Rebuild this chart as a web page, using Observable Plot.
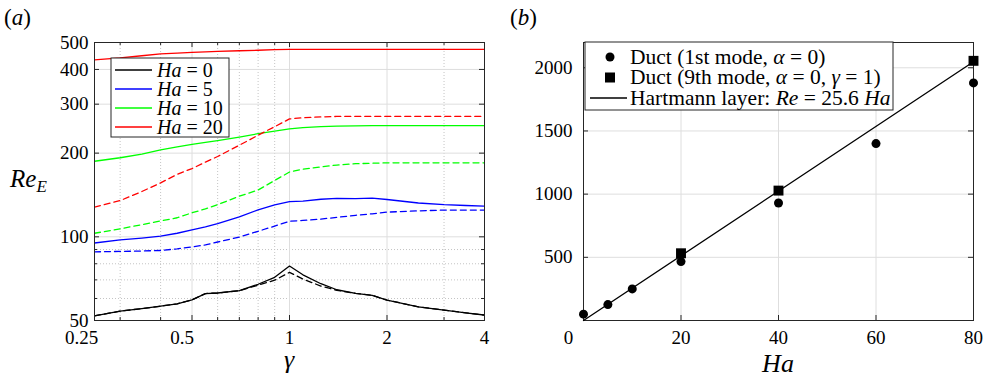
<!DOCTYPE html>
<html>
<head>
<meta charset="utf-8">
<script src="https://cdn.jsdelivr.net/npm/d3@7"></script>
<script src="https://cdn.jsdelivr.net/npm/@observablehq/plot@0.6"></script>
<style>
  body { margin: 0; background: #fff; }
  #fig { display: flex; width: 988px; height: 378px; }
  #fig svg { display: block; }
  #fig svg text, #fig svg tspan { font-family: "Liberation Serif", "Times New Roman", serif !important; }
</style>
</head>
<body>
<div id="fig"></div>
<script>
// ---- (a) critical Reynolds number Re_E against aspect ratio gamma ----
const gamma      = [0.25, 0.3, 0.35, 0.4, 0.45, 0.5, 0.55, 0.6, 0.7, 0.8, 0.9, 1, 1.1, 1.25, 1.4, 1.6, 1.8, 2, 2.5, 3, 3.5, 4];
const reHa0      = [52, 54, 55.2, 56.3, 57.4, 59.3, 62.5, 62.8, 64, 67.5, 71.5, 78.5, 73, 67.8, 64.5, 62.6, 61.6, 59.2, 56, 54.5, 53.3, 52.3];
const reHa0Dash  = [52, 54, 55.2, 56.3, 57.4, 59.3, 62.5, 62.8, 64, 67, 69.8, 74.5, 70.5, 66.5, 64.2, 62.6, 61.6, 59.2, 56, 54.5, 53.3, 52.3];
const reHa5      = [95, 97.5, 99, 100.5, 103, 106, 108.5, 111.5, 118, 125, 130.3, 133.8, 134.3, 136.5, 137.5, 137.2, 137.8, 136.2, 132.3, 130.5, 129.6, 129];
const reHa5Dash  = [88.3, 88.6, 88.9, 89.3, 90.5, 92, 93.5, 95.8, 99.8, 104.7, 109.3, 113.8, 114.5, 115.8, 117.5, 119.5, 121, 122.7, 124, 124.8, 124.8, 124.8];
const reHa10     = [187, 192.5, 198.5, 205.5, 210.5, 215, 218.5, 222, 228.5, 235, 240, 244.5, 247, 249, 250.2, 250.8, 251, 251, 251, 251, 251, 251];
const reHa10Dash = [103, 106.8, 110.6, 114, 117.1, 122, 126, 130.5, 140, 147.3, 159.5, 171, 175, 178.5, 181.2, 183.2, 184, 184.5, 184.5, 184.5, 184.5, 184.5];
const reHa20     = [433, 440, 448, 455, 458, 460.5, 462.5, 464.5, 467, 469, 471, 472, 472, 472, 472, 472, 472, 472, 472, 472, 472, 472];
const reHa20Dash = [127.8, 135, 145.5, 156.3, 167.8, 176, 185.6, 194.5, 213.5, 232, 249, 265.5, 268, 270, 271, 271, 271, 271, 271, 271, 271, 271];

const haLevels  = [0, 5, 10, 20];
const haColors  = ["#000000", "#0000ff", "#00ff00", "#ff0000"];
const solidRe   = [reHa0, reHa5, reHa10, reHa20];
const dashedRe  = [reHa0Dash, reHa5Dash, reHa10Dash, reHa20Dash];

const gammaTicks      = [0.25, 0.5, 1, 2, 4];
const gammaMinorTicks = [0.3, 0.4, 0.6, 0.7, 0.8, 0.9, 3];
const reTicks         = [50, 100, 200, 300, 400, 500];
const reMinorTicks    = [60, 70, 80, 90];

// ---- (b) critical Reynolds number against Hartmann number ----
const ductHa      = [0, 5, 10, 20, 40, 60, 80];
const ductRe      = [50, 126, 250, 466, 930, 1400, 1880];
const ninthHa     = [20, 40, 80];
const ninthRe     = [532, 1028, 2055];
const hartmannK   = 25.6;
const hartmannHa  = [0, 80];
const haTicks     = [20, 40, 60, 80];
const reLinTicks  = [500, 1000, 1500, 2000];
const legendB     = ["Duct (1st mode, α = 0)", "Duct (9th mode, α = 0, γ = 1)", "Hartmann layer: Re = 25.6 Ha"];

const W = 494, H = 378;
const axisColor = "#262626";
const gridColor = "#dedede";
const minorColor = "#c4c4c4";
const serif = "Liberation Serif, Times New Roman, serif";

// long-format table for the eight curves of (a)
const curves = [];
haLevels.forEach((ha, k) => {
  gamma.forEach((g, i) => {
    curves.push({gamma: g, re: solidRe[k][i], ha, color: haColors[k], dashed: false});
    curves.push({gamma: g, re: dashedRe[k][i], ha, color: haColors[k], dashed: true});
  });
});

// inward ticks along all four sides of a frame
function boxTicks(xs, ys, innerW, innerH, len) {
  return [
    Plot.tickX(xs, {x: d => d, insetTop: innerH - len, stroke: axisColor}),
    Plot.tickX(xs, {x: d => d, insetBottom: innerH - len, stroke: axisColor}),
    Plot.tickY(ys, {y: d => d, insetRight: innerW - len, stroke: axisColor}),
    Plot.tickY(ys, {y: d => d, insetLeft: innerW - len, stroke: axisColor})
  ];
}

// ---------- panel (a) ----------
const mA = {top: 42, right: 10, bottom: 58, left: 94};
const iwA = W - mA.left - mA.right, ihA = H - mA.top - mA.bottom;
const tickLabel = {tickSize: 0, fontSize: 19, label: null};

const svgA = Plot.plot({
  width: W, height: H,
  marginTop: mA.top, marginRight: mA.right, marginBottom: mA.bottom, marginLeft: mA.left,
  style: {fontFamily: serif, fontSize: "19px", color: "black", background: "white"},
  x: {type: "log", base: 2, domain: [0.25, 4]},
  y: {type: "log", domain: [50, 500]},
  color: {type: "identity"},
  marks: [
    Plot.gridX(gammaMinorTicks, {stroke: minorColor, strokeOpacity: 1, strokeDasharray: "1,2"}),
    Plot.gridY(reMinorTicks, {stroke: minorColor, strokeOpacity: 1, strokeDasharray: "1,2"}),
    Plot.gridX([0.5, 1, 2], {stroke: gridColor, strokeOpacity: 1}),
    Plot.gridY([100, 200, 300, 400], {stroke: gridColor, strokeOpacity: 1}),
    Plot.line(curves.filter(d => !d.dashed), {x: "gamma", y: "re", z: "ha", stroke: "color", strokeWidth: 1.3, clip: true}),
    Plot.line(curves.filter(d => d.dashed), {x: "gamma", y: "re", z: "ha", stroke: "color", strokeWidth: 1.3, strokeDasharray: "6,4", clip: true}),
    ...boxTicks(gammaTicks, reTicks, iwA, ihA, 5),
    ...boxTicks(gammaMinorTicks, reMinorTicks, iwA, ihA, 3),
    Plot.frame({stroke: axisColor, strokeWidth: 1}),
    Plot.axisX([1, 2, 4], {...tickLabel, tickPadding: 10, tickFormat: d => String(d)}),
    Plot.axisX([0.5], {...tickLabel, tickPadding: 10, dx: -10, tickFormat: d => String(d)}),
    Plot.axisX([0.25], {...tickLabel, tickPadding: 10, dx: -13, tickFormat: d => String(d)}),
    Plot.axisY(reTicks, {...tickLabel, tickPadding: 6, tickFormat: d => String(d)})
  ]
});

// ---------- panel (b) ----------
const mB = {top: 42, right: 15, bottom: 58, left: 89};
const iwB = W - mB.left - mB.right, ihB = H - mB.top - mB.bottom;
const duct1 = ductHa.map((h, i) => ({ha: h, re: ductRe[i]}));
const duct9 = ninthHa.map((h, i) => ({ha: h, re: ninthRe[i]}));
const hartmann = hartmannHa.map(h => ({ha: h, re: hartmannK * h}));

const svgB = Plot.plot({
  width: W, height: H,
  marginTop: mB.top, marginRight: mB.right, marginBottom: mB.bottom, marginLeft: mB.left,
  style: {fontFamily: serif, fontSize: "19px", color: "black", background: "white"},
  x: {domain: [0, 80]},
  y: {domain: [0, 2200]},
  marks: [
    Plot.gridX([20, 40, 60], {stroke: gridColor, strokeOpacity: 1}),
    Plot.gridY(reLinTicks, {stroke: gridColor, strokeOpacity: 1}),
    ...boxTicks([20, 40, 60], reLinTicks, iwB, ihB, 5),
    Plot.frame({stroke: axisColor, strokeWidth: 1}),
    Plot.line(hartmann, {x: "ha", y: "re", stroke: "black", strokeWidth: 1.3}),
    Plot.dot(duct1, {x: "ha", y: "re", r: 4.5, fill: "black"}),
    Plot.dot(duct9, {x: "ha", y: "re", r: 5.6, symbol: "square", fill: "black"}),
    Plot.axisX(haTicks, {...tickLabel, tickPadding: 10, tickFormat: d => String(d)}),
    Plot.axisX([0], {...tickLabel, tickPadding: 10, dx: -15, tickFormat: d => String(d)}),
    Plot.axisY(reLinTicks, {...tickLabel, tickPadding: 11, tickFormat: d => String(d)})
  ]
});

// ---------- annotations ----------
function richText(g, x, y, parts, size, anchor = "start") {
  const t = g.append("text").attr("x", x).attr("y", y)
    .attr("font-size", size).attr("text-anchor", anchor).attr("fill", "black");
  parts.forEach(([s, italic]) => t.append("tspan").attr("font-style", italic ? "italic" : "normal").text(s));
  return t;
}

// splits a legend string so that the symbols are set in italics
function legendParts(s) {
  return s.split(/(α|γ|Re(?= =)|Ha$)/).filter(p => p !== "").map(p => [p, /^(α|γ|Re|Ha)$/.test(p)]);
}

const gA = d3.select(svgA).append("g").attr("text-anchor", "start");
richText(gA, 4, 25, [["(", false], ["a", true], [")", false]], 23);
const reLab = gA.append("text").attr("x", 10).attr("y", 187).attr("text-anchor", "start")
  .attr("font-style", "italic").attr("fill", "black");
reLab.append("tspan").attr("font-size", 25).text("Re");
reLab.append("tspan").attr("font-size", 17).attr("dy", 5).text("E");
richText(gA, mA.left + iwA / 2, 368, [["γ", true]], 26, "middle");

// legend of (a)
const legA = gA.append("g");
legA.append("rect").attr("x", 111).attr("y", 58).attr("width", 118).attr("height", 79)
  .attr("fill", "white").attr("stroke", axisColor).attr("stroke-width", 1);
haLevels.forEach((ha, i) => {
  const y = 70 + i * 19;
  legA.append("line").attr("x1", 115).attr("x2", 152).attr("y1", y).attr("y2", y)
    .attr("stroke", haColors[i]).attr("stroke-width", 1.3);
  richText(legA, 157, y + 7, [["Ha", true], [" = " + ha, false]], 20);
});

const gB = d3.select(svgB).append("g").attr("text-anchor", "start");
richText(gB, 16, 25, [["(", false], ["b", true], [")", false]], 23);
richText(gB, mB.left + iwB / 2, 372, [["Ha", true]], 26, "middle");

// legend of (b)
const legB = gB.append("g");
legB.append("rect").attr("x", 91).attr("y", 42).attr("width", 308).attr("height", 68)
  .attr("fill", "white").attr("stroke", axisColor).attr("stroke-width", 1);
const rowY = [57, 77.5, 98];
legB.append("circle").attr("cx", 116).attr("cy", rowY[0]).attr("r", 4.5).attr("fill", "black");
legB.append("rect").attr("x", 111).attr("y", rowY[1] - 5).attr("width", 10).attr("height", 10).attr("fill", "black");
legB.append("line").attr("x1", 96).attr("x2", 133).attr("y1", rowY[2]).attr("y2", rowY[2])
  .attr("stroke", "black").attr("stroke-width", 1.3);
legendB.forEach((s, i) => richText(legB, 136, rowY[i] + 6.5, legendParts(s), 21.5));

const fig = document.getElementById("fig");
fig.append(svgA, svgB);
</script>
</body>
</html>
